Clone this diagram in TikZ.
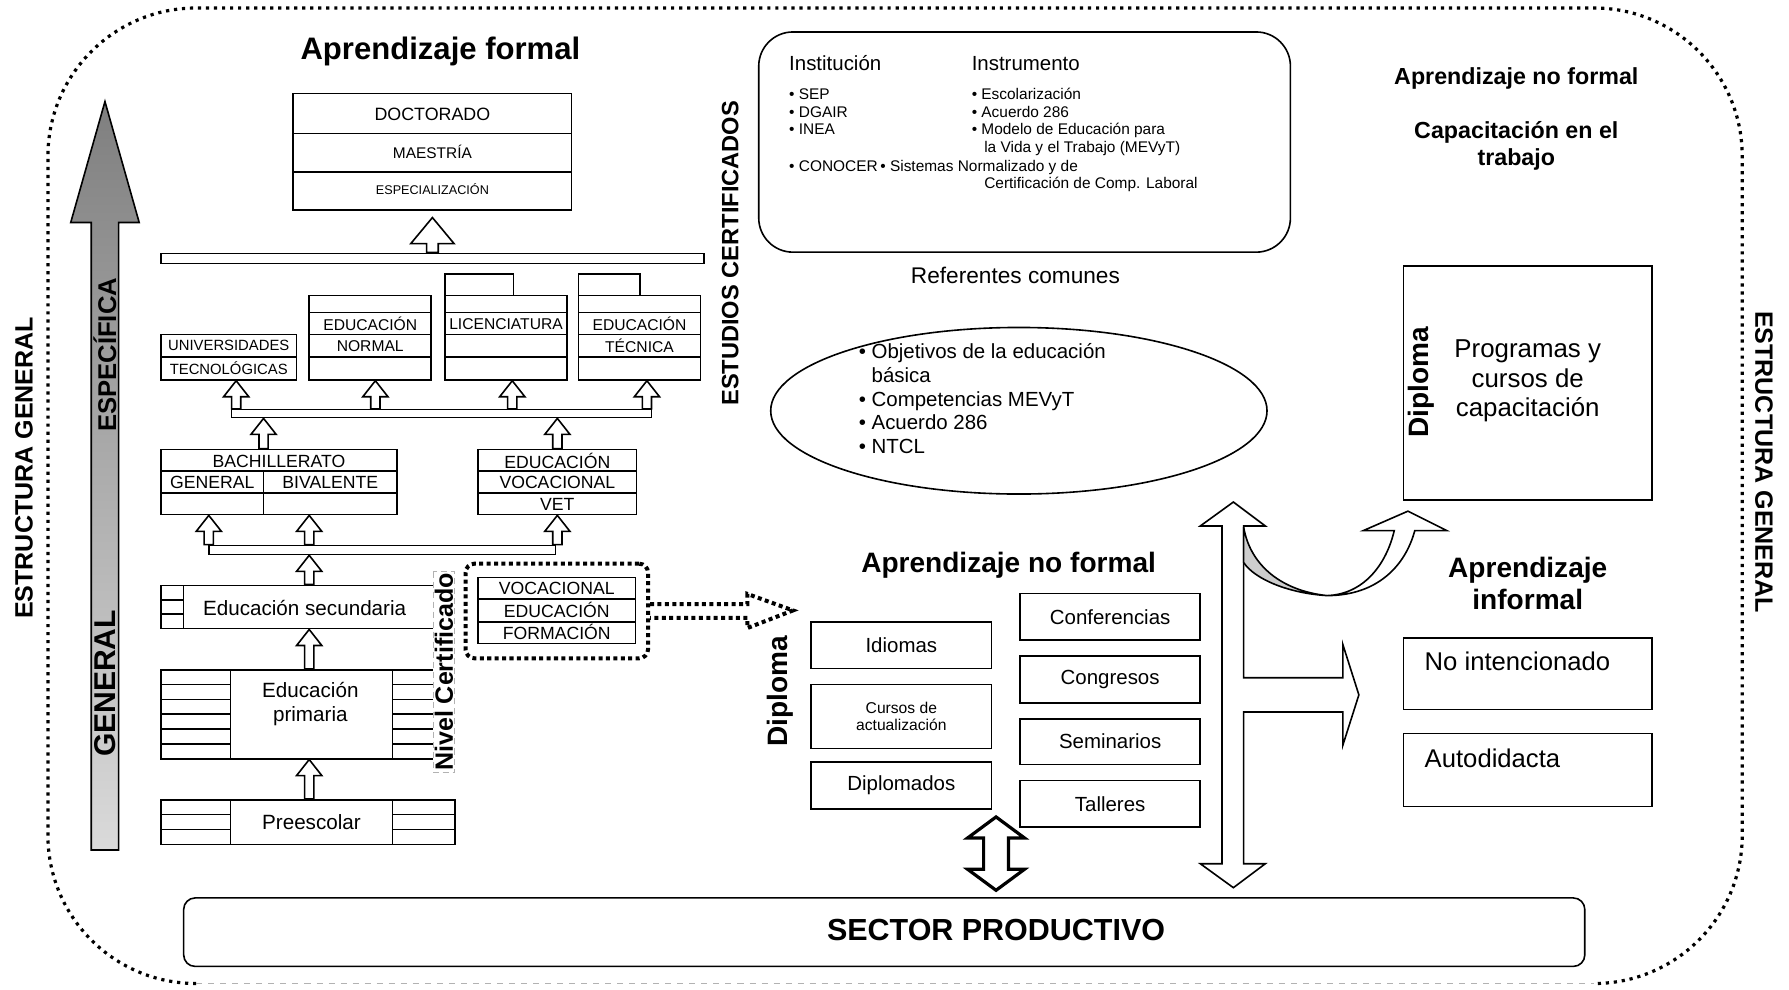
\documentclass[tikz,border=0pt]{standalone}
\usepackage{fontspec}
\setmainfont{Liberation Sans}
\usetikzlibrary{shapes.geometric,calc}

\definecolor{arrtop}{HTML}{7F7F7F}
\definecolor{arrbot}{HTML}{DADADA}
\definecolor{ribbon}{HTML}{CDCDCD}

\tikzset{
  fs/.style 2 args={font=\fontsize{#1}{#2}\selectfont},
  fsb/.style 2 args={font=\fontsize{#1}{#2}\selectfont\bfseries},
  lbl/.style={inner sep=0pt},
  box/.style 2 args={draw, inner sep=0pt, minimum width=#1*0.02cm, minimum height=#2*0.02cm},
  dots/.style={line width=1.6pt, dash pattern=on 1.6pt off 2.4pt},
  heavydots/.style={line width=2pt, dash pattern=on 2pt off 1.7pt},
  blk/.style n args={3}{draw, fill=white, to path={
      let \p1=(\tikztostart), \p2=(\tikztotarget) in
      (\x1-#1,\y1) -- (\x1-#1,\y2-#3) -- (\x1-#2,\y2-#3) -- (\x1,\y2)
      -- (\x1+#2,\y2-#3) -- (\x1+#1,\y2-#3) -- (\x1+#1,\y1) -- cycle}},
  upa/.style={blk={2.3pt}{6.3pt}{8pt}},
  bigup/.style={blk={2.9pt}{10.8pt}{13pt}},
  twoway/.style n args={3}{draw, fill=white, line width=1.6pt, to path={
      let \p1=(\tikztostart), \p2=(\tikztotarget) in
      (\x1,\y1) -- (\x1+#2,\y1+#3) -- (\x1+#1,\y1+#3) -- (\x1+#1,\y2-#3)
      -- (\x1+#2,\y2-#3) -- (\x1,\y2) -- (\x1-#2,\y2-#3) -- (\x1-#1,\y2-#3)
      -- (\x1-#1,\y1+#3) -- (\x1-#2,\y1+#3) -- cycle}},
}

\begin{document}
\begin{tikzpicture}[x=0.02cm, y=-0.02cm, line width=0.8pt]
    \useasboundingbox (0,0) rectangle (1568,867);

    % outer frame
    \draw[dots, rounded corners=2.6cm] (172,862) -| (42,7) -| (1527,862) -- (1397,862);
    \draw[gray!60, dashed, line width=0.5pt] (172,862) -- (1397,862);
    \node[lbl, rotate=90, fsb={12.5}{15}] (egl) at (21,410) {ESTRUCTURA GENERAL};
    \node[lbl, rotate=-90, fsb={12.5}{15}] (egr) at (1546,405) {ESTRUCTURA GENERAL};

    % general -> specific
    \shadedraw[top color=arrtop, bottom color=arrbot] (92,89) -- (122,195) -- (104,195) -- (104,745)
        -- (80,745) -- (80,195) -- (62,195) -- cycle;
    \node[lbl, rotate=90, fsb={12.8}{15}] (espec) at (92,311) {ESPECÍFICA};
    \node[lbl, rotate=90, fsb={15}{18}] (gener) at (92,599) {GENERAL};

    % formal learning
    \node[lbl, fsb={15.5}{18}] (aform) at (386,45) {Aprendizaje formal};
    \node[box={244}{102}] (doc) at (379,133) {};
    \draw (257,117) -- (501,117) (257,151) -- (501,151);
    \node[lbl, fs={8.9}{10}] (doct) at (379,100) {DOCTORADO};
    \node[lbl, fs={7.7}{9}] (maes) at (379,133) {MAESTRÍA};
    \node[lbl, fs={6.3}{8}] (espz) at (379,166) {ESPECIALIZACIÓN};
    \node[box={476}{9}] (bar1) at (379,226.5) {};
    \draw[bigup] (bar1.north) to ([yshift=-3.4pt]doc.south);

    \node[box={119}{40}] (ut) at (200.5,313) {};
    \draw (141,313) -- (260,313);
    \node[lbl, fs={7.4}{9}] (ut1) at (200.5,303) {UNIVERSIDADES};
    \node[lbl, fs={7.4}{9}] (ut2) at (200.5,323) {TECNOLÓGICAS};
    \node[box={107}{74}] (en) at (324.5,296) {};
    \node[box={107}{74}] (lic) at (443.5,296) {};
    \node[box={107}{74}] (et) at (560.5,296) {};
    \node[box={60}{19}] (lictab) at (420,249.5) {};
    \node[box={54}{19}] (ettab) at (534,249.5) {};
    \foreach \xa/\xb in {271/378, 390/497, 507/614}
        \foreach \yy in {274,293,313}
            \draw (\xa,\yy) -- (\xb,\yy);
    \node[lbl, fs={7.8}{9}] (en1) at (324.5,284) {EDUCACIÓN};
    \node[lbl, fs={7.8}{9}] (en2) at (324.5,303) {NORMAL};
    \node[lbl, fs={7.8}{9}] (lic1) at (443.5,284) {LICENCIATURA};
    \node[lbl, fs={7.8}{9}] (et1) at (560.5,284) {EDUCACIÓN};
    \node[lbl, fs={7.8}{9}] (et2) at (560.5,303) {TÉCNICA};

    \node[box={368}{7}] (bar2) at (387,362.5) {};
    \foreach \b/\xx in {ut/207, en/329, lic/449, et/567}
        \draw[upa] (bar2.north -| \xx,0) to (\b.south -| \xx,0);

    \node[box={207}{57}] (bach) at (244.5,422.5) {};
    \draw (141,413) -- (348,413) (141,432) -- (348,432) (231,413) -- (231,451);
    \node[lbl, fs={8.8}{10}] (bach1) at (244.5,404) {BACHILLERATO};
    \node[lbl, fs={8.8}{10}] (bach2) at (186,423) {GENERAL};
    \node[lbl, fs={8.8}{10}] (bach3) at (289.5,423) {BIVALENTE};
    \node[box={139}{57}] (voc) at (488.5,422.5) {};
    \draw (419,413) -- (558,413) (419,432) -- (558,432);
    \node[lbl, fs={8.8}{10}] (voc1) at (488.5,404) {EDUCACIÓN};
    \node[lbl, fs={8.8}{10}] (voc2) at (488.5,423) {VOCACIONAL};
    \node[lbl, fs={8.8}{10}] (voc3) at (488.5,442) {VET};
    \draw[upa] (bach.north -| 231,0) to (bar2.south -| 231,0);
    \draw[upa] (voc.north) to (bar2.south -| voc.north);

    \node[box={304}{8}] (bar3) at (335,482) {};
    \draw[upa] (bar3.north -| 183,0) to (bach.south -| 183,0);
    \draw[upa] (bar3.north -| 271,0) to (bach.south -| 271,0);
    \draw[upa] (bar3.north -| voc.south) to (voc.south);

    \node[box={237}{38}] (sec) at (279.5,532) {};
    \draw (141,513) rectangle (161,551) (141,526) -- (161,526) (141,538) -- (161,538);
    \node[lbl, fs={10.3}{12}] (sect) at (267,533) {Educación secundaria};
    \draw[upa] (sec.north -| 271,0) to (bar3.south -| 271,0);

    \draw (141,587) rectangle (202,665);
    \foreach \yy in {587,600,...,665}
    {
        \draw (141,\yy) -- (202,\yy);
        \draw (344,\yy) -- (398,\yy);
    }
    \node[box={142}{78}, fill=white] (prim) at (273,626) {};
    \node[lbl, fs={10.3}{12}, align=center] (primt) at (272,617) {Educación\\primaria};
    \draw[upa] (prim.north -| 271,0) to (sec.south -| 271,0);

    \draw (141,701) rectangle (399,740);
    \draw (141,714) -- (399,714) (141,727) -- (399,727);
    \node[box={142}{39}, fill=white, fs={10.3}{12}] (pre) at (273,720.5) {Preescolar};
    \draw[upa] (pre.north -| 271,0) to (prim.south -| 271,0);

    \node[rotate=90, fsb={12.5}{15}, draw=gray!60, densely dashed, line width=0.4pt,
          fill=white, inner sep=0.8pt] (nivel) at (389,589) {Nivel Certificado};

    % certified vocational training
    \node[box={138}{58}] (vet) at (488,535) {};
    \draw (419,525) -- (557,525) (419,545) -- (557,545);
    \node[lbl, fs={8.8}{10}] (vet1) at (488,516) {VOCACIONAL};
    \node[lbl, fs={8.8}{10}] (vet2) at (488,535) {EDUCACIÓN};
    \node[lbl, fs={8.8}{10}] (vet3) at (488,554) {FORMACIÓN};
    \node[box={160}{83}, heavydots, rounded corners=0.16cm] (cert) at (488,535.5) {};
    \coordinate (diptip) at (695,535);
    \draw[heavydots] let \p1=(cert.east), \p2=(diptip) in
        (\x1,\y1+3.4pt) -- (\x2-22.7pt,\y1+3.4pt) -- (\x2-22.7pt,\y1+8.5pt) -- (\p2)
        -- (\x2-22.7pt,\y1-8.5pt) -- (\x2-22.7pt,\y1-3.4pt) -- (\x1,\y1-3.4pt);

    \node[lbl, rotate=90, fsb={11.8}{14}] (estc) at (640,222) {ESTUDIOS CERTIFICADOS};

    % institutions and instruments
    \node[box={466}{193}, rounded corners=0.6cm] (inst) at (898,124.5) {};
    \node[lbl, anchor=base west, fs={10.2}{12}] (instl) at (691,62) {Institución};
    \node[lbl, anchor=base west, fs={10.2}{12}] (instr) at (851,62) {Instrumento};
    \foreach \yy/\txt [count=\i] in {87/SEP, 103/DGAIR, 118/INEA}
        \node[lbl, anchor=base west, fs={7.7}{9}] (inl\i) at (691,\yy) {\textbullet\ \txt};
    \foreach \yy/\txt [count=\i] in {87/Escolarización, 103/Acuerdo 286, 118/Modelo de Educación para}
        \node[lbl, anchor=base west, fs={7.7}{9}] (inr\i) at (851,\yy) {\textbullet\ \txt};
    \node[lbl, anchor=base west, fs={7.7}{9}] (inr4) at (862,134) {la Vida y el Trabajo (MEVyT)};
    \node[lbl, anchor=base west, fs={7.7}{9}] (inl4) at (691,150) {\textbullet\ CONOCER\,\textbullet\ Sistemas Normalizado y de};
    \node[lbl, anchor=base west, fs={7.7}{9}] (inl5) at (862,165) {Certificación de Comp. Laboral};

    % common references
    \node[lbl, fs={11.3}{13}] (refc) at (890,241) {Referentes comunes};
    \node[draw, ellipse, inner sep=0pt, minimum width=435*0.02cm, minimum height=146*0.02cm] (ref) at (893,360) {};
    \node[lbl, anchor=west, align=left, fs={10.2}{11.8}] (reft) at (752,349.5)
        {\textbullet\ Objetivos de la educación\\\phantom{\textbullet\ }básica\\\textbullet\ Competencias MEVyT\\\textbullet\ Acuerdo 286\\\textbullet\ NTCL};

    % on-the-job training
    \node[lbl, fsb={11.6}{13.7}] (anf1) at (1329,69) {Aprendizaje no formal};
    \node[lbl, fsb={11.6}{13.7}, align=center] (capt) at (1329,128) {Capacitación en el\\trabajo};
    \node[box={218}{205}] (prog) at (1339,335.5) {};
    \node[lbl, rotate=90, fsb={14}{16}] (dipr) at (1246,335) {Diploma};
    \node[lbl, fs={12.9}{14.8}, align=center] (progt) at (1339,334) {Programas y\\cursos de\\capacitación};

    % informal learning
    \node[lbl, fsb={14}{16}, align=center] (ainf) at (1339,511) {Aprendizaje\\informal};
    \node[box={218}{63}] (noint) at (1339,590.5) {};
    \node[lbl, anchor=base west, fs={12.8}{15}] (nointt) at (1248,588) {No intencionado};
    \node[box={218}{64}] (auto) at (1339,675) {};
    \node[lbl, anchor=base west, fs={12.8}{15}] (autot) at (1248,673) {Autodidacta};

    % non-formal learning
    \node[lbl, fsb={14}{16}] (anf2) at (884,495) {Aprendizaje no formal};
    \node[lbl, rotate=90, fsb={14}{16}] (dipm) at (684,606) {Diploma};
    \node[box={158}{41}, fs={10.2}{12}] (idi) at (790,565.5) {Idiomas};
    \node[box={158}{56}, fs={7.8}{8.7}, align=center] (cur) at (790,628) {Cursos de\\actualización};
    \node[box={158}{41}, fs={10.2}{12}] (dipl) at (790,688.5) {Diplomados};
    \node[box={158}{41}, fs={10.2}{12}] (conf) at (973,540.5) {Conferencias};
    \node[box={158}{41}, fs={10.2}{12}] (cong) at (973,595.5) {Congresos};
    \node[box={158}{40}, fs={10.2}{12}] (sem) at (973,650) {Seminarios};
    \node[box={158}{41}, fs={10.2}{12}] (tal) at (973,704.5) {Talleres};

    % productive sector
    \node[box={1228}{60}, rounded corners=0.2cm] (sector) at (775,817) {};
    \node[lbl, fsb={15.2}{18}] (sectt) at (873,815) {SECTOR PRODUCTIVO};
    \path (sector.north -| 873,0) ++(0,-6) coordinate (dbot);
    \coordinate (dtop) at (873,716);
    \draw[twoway={6.2pt}{14.2pt}{10.5pt}] (dbot) to (dtop);

    % links between the kinds of learning
    \draw[fill=white] (1081,440) -- (1109,461) -- (1090,461) -- (1090,594) -- (1177,594) -- (1177,565)
        -- (1191,609) -- (1177,653) -- (1177,624) -- (1090,624) -- (1090,757) -- (1109,757)
        -- (1081,778) -- (1052,757) -- (1071,757) -- (1071,461) -- (1052,461) -- cycle;
    \draw[fill=ribbon] (1090,462) .. controls (1096,497) and (1125,518) .. (1163,522)
        .. controls (1130,520) and (1100,508) .. (1090,493) -- cycle;
    \draw[fill=white] (1163,522) .. controls (1195,521) and (1215,495) .. (1222,465) -- (1195,465)
        -- (1234,448) -- (1268,465) -- (1240,465) .. controls (1232,495) and (1208,522) .. (1163,522) -- cycle;
\end{tikzpicture}
\end{document}
